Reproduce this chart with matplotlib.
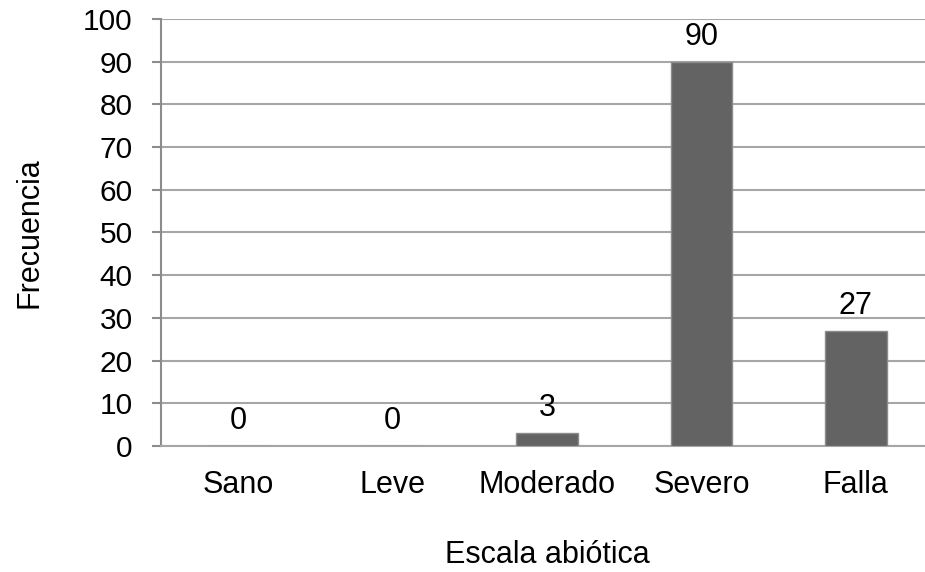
import numpy as np
import matplotlib.pyplot as plt

plt.rcParams['font.family'] = ['Liberation Sans', 'DejaVu Sans']

categorias = ['Sano', 'Leve', 'Moderado', 'Severo', 'Falla']
frecuencia = [0, 0, 3, 90, 27]


def main():
    fig = plt.figure(figsize=(9.25, 5.72), dpi=100)
    # el eje se sale un poco por la derecha, como en el original
    ax = fig.add_axes([161 / 925, 1 - 446 / 572, 772 / 925, 427 / 572])

    x = np.arange(len(categorias))
    bars = ax.bar(x, frecuencia, width=0.4, color='#636363',
                  edgecolor='#8c8c8c', linewidth=1, zorder=3)

    for b, v in zip(bars, frecuencia):
        ax.text(b.get_x() + b.get_width() / 2, v + 2.3, str(v),
                ha='center', va='bottom', fontsize=22)

    ax.set_xlim(-0.5, len(categorias) - 0.5)
    ax.set_ylim(0, 100)
    ax.set_yticks(range(0, 101, 10))
    ax.set_xticks(x)
    ax.set_xticklabels(categorias)
    ax.tick_params(axis='x', length=0, pad=17, labelsize=22)
    ax.tick_params(axis='y', length=6.5, width=1.5, color='#8c8c8c',
                   pad=14, labelsize=21.5)

    ax.yaxis.grid(True, color='#a6a6a6', linewidth=1.5, zorder=0)
    for s in ['top', 'right']:
        ax.spines[s].set_visible(False)
    ax.spines['left'].set_color('#8c8c8c')
    ax.spines['left'].set_linewidth(1.5)
    ax.spines['bottom'].set_color('#a6a6a6')
    ax.spines['bottom'].set_linewidth(1.5)

    ax.set_ylabel('Frecuencia', fontsize=22, labelpad=28)
    ax.set_xlabel('Escala abiótica', fontsize=22, labelpad=29)

    fig.savefig('out.png', dpi=100)


if __name__ == "__main__":
    main()
